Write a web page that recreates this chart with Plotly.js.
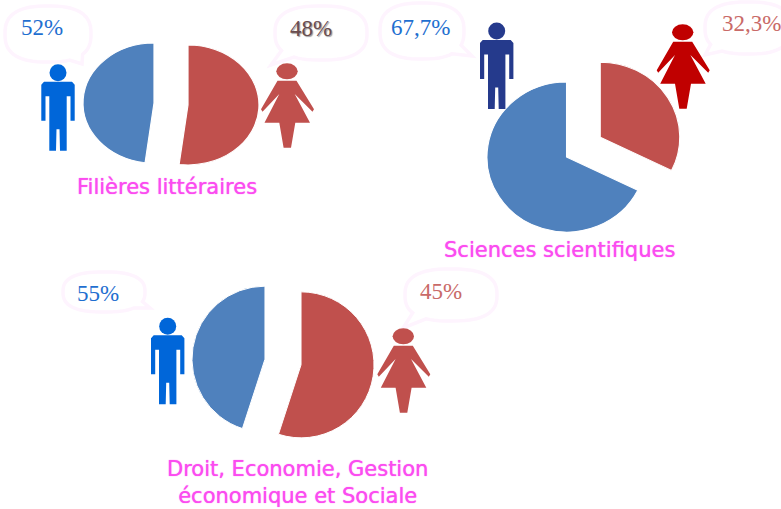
<!DOCTYPE html>
<html><head><meta charset="utf-8">
<script src="https://cdn.plot.ly/plotly-3.0.1.min.js"></script>
<style>html,body{margin:0;padding:0;background:#fff;overflow:hidden}#c{width:781px;height:509px}</style>
</head><body><div id="c"></div>
<script>
// Data (slice sizes as drawn; printed labels as printed)
const sliceLabels = ['Femmes', 'Hommes'];
const litteraires = [52, 48];
const scientifiques = [32.3, 67.7];
const droit = [55, 45];
const titleLitt = 'Filières littéraires';
const titleSci = 'Sciences scientifiques';
const titleDroit = 'Droit, Economie, Gestion<br>économique et Sociale';
const labelsPrinted = ['52%', '48%', '67,7%', '32,3%', '55%', '45%'];

const W = 781, H = 509;
const BLUE = '#4f81bd', RED = '#c0504d';
const px = x => x / W, py = y => 1 - y / H;

const pieGeom = [
  {vals: litteraires, cx: 171, cy: 104, r: 60, sx: 1.183, pull: [0.24, 0.24]},
  {vals: scientifiques, cx: 566.5, cy: 157, r: 75, sx: 1.06, pull: [0.5, 0]},
  {vals: droit, cx: 283, cy: 362, r: 73, sx: 1.0, pull: [0.25, 0.25]}
];
const traces = pieGeom.map(g => {
  const half = g.r * (1 + Math.max(...g.pull));
  return {
    type: 'pie', labels: sliceLabels, values: g.vals, sort: false, direction: 'clockwise', rotation: 0,
    pull: g.pull, textinfo: 'none', hoverinfo: 'label+percent', showlegend: false,
    marker: {colors: [RED, BLUE], line: {color: '#ffffff', width: 1}},
    domain: {x: [px(g.cx - half), px(g.cx + half)], y: [py(g.cy + half), py(g.cy - half)]}
  };
});

function poly(pts) {
  return 'M' + pts.map(p => px(p[0]) + ',' + py(p[1])).join('L') + 'Z';
}
function man(cx, hy, color) {
  const body = [[-16.7,12],[-14,9],[14,9],[16.7,12],[16.7,48],[12.5,48],[12.5,23.5],[8.7,23.5],[8.7,78],
    [2,78],[1.5,56.5],[-1.5,56.5],[-2,78],[-8.7,78],[-8.7,23.5],[-12.5,23.5],[-12.5,48],[-16.7,48]]
    .map(p => [cx + p[0], hy + p[1]]);
  return [
    {type:'circle', xref:'paper', yref:'paper', x0:px(cx-8.5), x1:px(cx+8.5), y0:py(hy+8.5), y1:py(hy-8.5), fillcolor:color, line:{width:0}},
    {type:'path', xref:'paper', yref:'paper', path:poly(body), fillcolor:color, line:{width:0}}
  ];
}
function woman(cx, hy, color) {
  const body = [[-9.5,9.4],[9.5,9.4],[27,38],[25.5,40.5],[7.7,22.7],[23,51.4],[8.3,51.4],[4,76.4],[-3.4,76.4],[-7.7,51.4],
    [-22.5,51.4],[-7.7,22.7],[-24.5,40.5],[-26,38]].map(p => [cx + p[0], hy + p[1]]);
  return [
    {type:'circle', xref:'paper', yref:'paper', x0:px(cx-10.7), x1:px(cx+10.7), y0:py(hy+8), y1:py(hy-8), fillcolor:color, line:{width:0}},
    {type:'path', xref:'paper', yref:'paper', path:poly(body), fillcolor:color, line:{width:0}}
  ];
}
function bubble(cx, cy, rx, ry, tx, ty) {
  const t0 = Math.atan2((ty - cy) / ry, (tx - cx) / rx), d = 0.22, n = 60, e = 2 / 2.6;
  const pts = [];
  for (let i = 0; i <= n; i++) {
    const t = t0 + d + (2 * Math.PI - 2 * d) * i / n;
    const c = Math.cos(t), s = Math.sin(t);
    pts.push([cx + rx * Math.sign(c) * Math.pow(Math.abs(c), e), cy + ry * Math.sign(s) * Math.pow(Math.abs(s), e)]);
  }
  pts.push([tx, ty]);
  return {type:'path', xref:'paper', yref:'paper', path:poly(pts), fillcolor:'rgba(0,0,0,0)', line:{color:'#fef4fe', width:3.5}};
}
const shapes = [
  bubble(48,34,43,28,82,64), bubble(321,33,46,27,271,65), bubble(422,31,42,28,472,56),
  bubble(748,28,43,26,705,55), bubble(104,292,41,20,150,308), bubble(451,295,46,26,403,328),
  ...man(58,72.7,'#0066d9'), ...woman(287,71.3,RED),
  ...man(496.7,31,'#253a8c'), ...woman(682.7,32.3,'#c00000'),
  ...man(167.7,326.3,'#0066d9'), ...woman(403.3,336.3,RED)
];
function note(text, x, y, size, color, family, shadow) {
  const font = {size, color, family};
  if (shadow) font.shadow = shadow;
  return {text, x: px(x), y: py(y), xref:'paper', yref:'paper', xanchor:'center', yanchor:'middle', showarrow:false, font};
}
const SERIF = '"Liberation Serif", serif', SANS = '"DejaVu Sans", sans-serif', MAG = '#fb4cf0', FAT = '0 0 1px #fb4cf0';
const annotations = [
  note(labelsPrinted[0],42,27,23,'#1f6fd0',SERIF), note(labelsPrinted[1],311,29,23,'#6a4c4e',SERIF,'1px 1px 1px #999'),
  note(labelsPrinted[2],420,28,23,'#1f6fd0',SERIF), note(labelsPrinted[3],751,23,23,'#c96a68',SERIF),
  note(labelsPrinted[4],98,293,23,'#1f6fd0',SERIF), note(labelsPrinted[5],441,291,23,'#c96a68',SERIF),
  note(titleLitt,167,187,21,MAG,SANS,FAT), note(titleSci,559,250,21,MAG,SANS,FAT),
  note(titleDroit,297,482.5,21,MAG,SANS,FAT)
];
Plotly.newPlot('c', traces, {
  width: W, height: H, margin:{l:0,r:0,t:0,b:0}, paper_bgcolor:'#fff', plot_bgcolor:'#fff',
  shapes, annotations, showlegend:false
}, {displayModeBar:false, staticPlot:true}).then(gd => {
  // the reference pies are stretched horizontally
  gd.querySelectorAll('.pielayer .trace').forEach((el, i) => {
    const g = pieGeom[i];
    el.setAttribute('transform', `translate(${g.cx},${g.cy}) scale(${g.sx},1) translate(${-g.cx},${-g.cy})`);
  });
});
</script></body></html>
